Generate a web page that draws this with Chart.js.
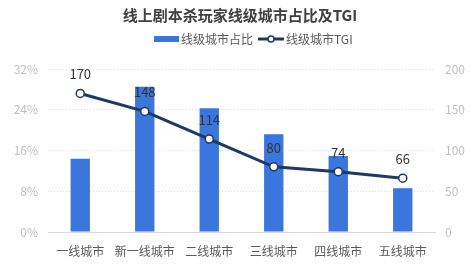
<!DOCTYPE html>
<html>
<head>
<meta charset="utf-8">
<script src="https://cdn.jsdelivr.net/npm/chart.js@4"></script>
<style>
  html, body { margin: 0; padding: 0; background: #fff; }
  #wrap { width: 474px; height: 269px; position: relative; }
</style>
</head>
<body>
<div id="wrap"><canvas id="chart"></canvas></div>
<script>
"use strict";

// ─── Data ──────────────────────────────────────────────────────────────────
const CITY_TIERS  = ["一线城市", "新一线城市", "二线城市", "三线城市", "四线城市", "五线城市"];
const SHARE_PCT   = [14.4, 28.5, 24.3, 19.2, 14.9, 8.6];
const TGI_VALUES  = [170, 148, 114, 80, 74, 66];
const SHARE_TICKS = [0, 8, 16, 24, 32];
const TGI_TICKS   = [0, 50, 100, 150, 200];

const TITLE       = "线上剧本杀玩家线级城市占比及TGI";
const BAR_LABEL   = "线级城市占比";
const LINE_LABEL  = "线级城市TGI";

// ─── Colours ───────────────────────────────────────────────────────────────
const BAR_COLOUR  = "#3a76dc";
const LINE_COLOUR = "#1f3864";
const FONT        = "'Noto Sans CJK SC', 'Noto Sans', sans-serif";

// ─── Title + legend drawn on the canvas ────────────────────────────────────
const headerPlugin = {
  id: "header",
  afterDraw(chart) {
    const ctx = chart.ctx;
    ctx.save();
    ctx.textBaseline = "middle";

    ctx.font = "bold 15px " + FONT;
    ctx.fillStyle = "#404040";
    ctx.textAlign = "center";
    ctx.fillText(TITLE, 240, 15);

    ctx.font = "12px " + FONT;
    ctx.textAlign = "left";

    // bar swatch
    ctx.fillStyle = BAR_COLOUR;
    ctx.fillRect(154, 36, 25, 6);
    ctx.fillStyle = "#595959";
    ctx.fillText(BAR_LABEL, 181, 39);

    // line swatch
    ctx.strokeStyle = LINE_COLOUR;
    ctx.lineWidth = 3;
    ctx.beginPath();
    ctx.moveTo(258, 39);
    ctx.lineTo(284, 39);
    ctx.stroke();
    ctx.beginPath();
    ctx.arc(271, 39, 3, 0, Math.PI * 2);
    ctx.fillStyle = "#fff";
    ctx.fill();
    ctx.lineWidth = 1.5;
    ctx.stroke();
    ctx.fillStyle = "#595959";
    ctx.fillText(LINE_LABEL, 286, 39);
    ctx.restore();
  },
};

// ─── Value labels above the TGI points ─────────────────────────────────────
const valueLabelPlugin = {
  id: "valueLabels",
  afterDatasetsDraw(chart) {
    const ctx  = chart.ctx;
    const meta = chart.getDatasetMeta(0);   // the TGI line
    ctx.save();
    ctx.font = "13px " + FONT;
    ctx.fillStyle = "#333";
    ctx.textAlign = "center";
    ctx.textBaseline = "middle";
    meta.data.forEach((pt, i) => {
      ctx.fillText(String(TGI_VALUES[i]), pt.x, pt.y - 19);
    });
    ctx.restore();
  },
};

new Chart(document.getElementById("chart"), {
  data: {
    labels: CITY_TIERS,
    datasets: [
      {
        type: "line",
        label: LINE_LABEL,
        data: TGI_VALUES,
        yAxisID: "y2",
        borderColor: LINE_COLOUR,
        borderWidth: 3,
        pointRadius: 4,
        pointBorderWidth: 1.5,
        pointBackgroundColor: "#fff",
        pointBorderColor: LINE_COLOUR,
        tension: 0,
        order: 0,
      },
      {
        type: "bar",
        label: BAR_LABEL,
        data: SHARE_PCT,
        yAxisID: "y",
        backgroundColor: BAR_COLOUR,
        categoryPercentage: 1,
        barPercentage: 0.3,
        order: 1,
      },
    ],
  },
  options: {
    responsive: true,
    maintainAspectRatio: false,
    animation: false,
    layout: { padding: { top: 69, left: 0, right: 0, bottom: 0 } },
    plugins: {
      legend:  { display: false },
      title:   { display: false },
      tooltip: { enabled: false },
    },
    scales: {
      x: {
        grid:   { display: false, drawTicks: false },
        border: { color: "#d9d9d9" },
        ticks:  { color: "#595959", font: { size: 12, family: FONT }, padding: 12, maxRotation: 0 },
        afterFit(scale) { scale.height = 37; },
      },
      y: {
        position: "left",
        min: 0, max: 32,
        afterBuildTicks(scale) { scale.ticks = SHARE_TICKS.map(v => ({ value: v })); },
        grid:   { color: "#dcdcdc", drawTicks: false, lineWidth: 1 },
        border: { display: false, dash: [1, 2] },
        ticks:  { color: "#bfbfbf", font: { size: 12, family: FONT }, padding: 10,
                  callback: v => v + "%" },
        afterFit(scale) { scale.width = 48; },
      },
      y2: {
        position: "right",
        min: 0, max: 200,
        afterBuildTicks(scale) { scale.ticks = TGI_TICKS.map(v => ({ value: v })); },
        grid:   { display: false, drawTicks: false },
        border: { display: false },
        ticks:  { color: "#bfbfbf", font: { size: 12, family: FONT }, padding: 10 },
        afterFit(scale) { scale.width = 39; },
      },
    },
  },
  plugins: [headerPlugin, valueLabelPlugin],
});
</script>
</body>
</html>
